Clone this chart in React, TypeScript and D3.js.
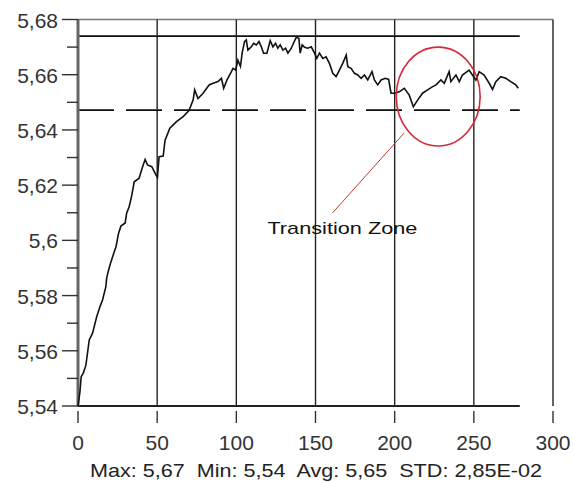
import React from 'react';
import * as d3 from 'd3';

const timeValues = [
  0, 1.2, 2, 3.4, 5, 7.1, 9.2, 11.8, 13.9, 15.5, 17.6, 18.1, 19.3, 20.8, 22.9, 24, 25.6, 27.1, 29.8,
  30.7, 32.3, 34, 35.5, 38.6, 40.8, 42.4, 43.9, 46.6, 49.2, 50.2, 51.2, 53.8, 55, 58, 62.2, 66.4,
  70.1, 72.7, 73.7, 75.8, 79, 82.8, 85.3, 88.4, 90.6, 92, 94.1, 95.8, 97.9, 99.6, 101, 102.6,
  103.8, 105.2, 106.3, 107.3, 109.5, 110.9, 112.6, 114.3, 115.8, 117.2, 119.3, 121.4, 123.1,
  124.8, 126.2, 127.7, 129.4, 131.1, 132.6, 134.7, 136.1, 137.8, 139.5, 140.3, 141.6, 143.1,
  145.1, 147.3, 149.4, 150.8, 152.5, 154.6, 156.7, 158.8, 160.9, 163, 165.1, 167.2, 169.4,
  170.4, 172.5, 174.6, 176.7, 178.8, 180.9, 183, 185.7, 187.2, 189.3, 191.4, 194.1, 196.2,
  197.7, 199.8, 202.9, 206.1, 209.2, 211.8, 214.5, 217.6, 220.8, 223.5, 226.1, 229.2, 231.3,
  234.4, 235.5, 238.7, 240.8, 242.8, 247, 249.1, 251.3, 253.4, 256.5, 259.7, 261.8, 263.9,
  267, 270.2, 273.3, 276.5, 278.1
];
const signalValues = [
  5.540, 5.545, 5.5506, 5.552, 5.5548, 5.5639, 5.5664, 5.5723, 5.576, 5.5784, 5.5832, 5.5863,
  5.5892, 5.5922, 5.5959, 5.5977, 5.6025, 5.6052, 5.6063, 5.6098, 5.6122, 5.6164, 5.6212,
  5.6225, 5.6267, 5.6293, 5.6273, 5.6267, 5.6237, 5.6228, 5.6303, 5.6305, 5.6363, 5.6406,
  5.643, 5.6448, 5.647, 5.6508, 5.6545, 5.6514, 5.6533, 5.6563, 5.6569, 5.6575, 5.6587,
  5.6551, 5.6581, 5.6599, 5.6623, 5.6617, 5.6653, 5.663, 5.6683, 5.672, 5.6726, 5.6689,
  5.6701, 5.6714, 5.6708, 5.672, 5.6701, 5.6678, 5.6678, 5.6723, 5.6701, 5.6714, 5.6696,
  5.6708, 5.6689, 5.6696, 5.6678, 5.6696, 5.6714, 5.6735, 5.6732, 5.6678, 5.6708, 5.6699,
  5.6696, 5.6701, 5.6678, 5.6659, 5.6678, 5.6659, 5.6665, 5.6641, 5.6605, 5.6593, 5.6617,
  5.6641, 5.6671, 5.6629, 5.6623, 5.6605, 5.6599, 5.6587, 5.6599, 5.6581, 5.6611, 5.6581,
  5.6563, 5.6581, 5.6587, 5.6583, 5.6533, 5.6533, 5.6538, 5.6551, 5.6526, 5.6484, 5.6508,
  5.6533, 5.6545, 5.6555, 5.6563, 5.6581, 5.6569, 5.6611, 5.6575, 5.6599, 5.6575, 5.6599,
  5.6617, 5.6599, 5.6581, 5.6611, 5.6599, 5.6569, 5.6547, 5.6575, 5.6593, 5.6587, 5.6575,
  5.6563, 5.6551
];

const xTicks = [0, 50, 100, 150, 200, 250, 300];
const yMajorTicks = [5.54, 5.56, 5.58, 5.6, 5.62, 5.64, 5.66, 5.68];
const yMinorTicks = [5.55, 5.57, 5.59, 5.61, 5.63, 5.65, 5.67];
const maxLevel = 5.674;
const avgLevel = 5.6472;
const refLineEnd = 279;
const statsText = 'Max: 5,67  Min: 5,54  Avg: 5,65  STD: 2,85E-02';
const annotationLabel = 'Transition Zone';
// ellipse centre / radii and arrow ends, in data units
const zoneCenter = { t: 227.5, v: 5.6521 };
const zoneRadius = { t: 26.5, v: 0.0179 };
const pointerFrom = { t: 206, v: 5.6389 };
const pointerTo = { t: 160.7, v: 5.6099 };
const labelAt = { t: 167, v: 5.6023 };

const fmt = (v: number) => String(+v.toFixed(2)).replace('.', ',');

export default function App() {
  const width = 574;
  const height = 482;
  const x = d3.scaleLinear().domain([0, 300]).range([78, 553]);
  const y = d3.scaleLinear().domain([5.54, 5.68]).range([406, 19.5]);

  const points = timeValues.map((t, i) => [t, signalValues[i]] as [number, number]);
  const line = d3.line<[number, number]>()
    .x(d => x(d[0]))
    .y(d => y(d[1]));

  const font = '"Liberation Sans", Arial, sans-serif';
  const top = y(5.68);
  const bottom = y(5.54);

  return (
    <div style={{ position: 'fixed', left: 0, top: 0 }}>
      <svg width={width} height={height} style={{ display: 'block', background: '#fff' }}>
        {/* top frame */}
        <line x1={x(0)} x2={x(300)} y1={top} y2={top} stroke="#777" strokeWidth={1.5} />

        {/* vertical grid lines with ticks below */}
        {xTicks.map(t => (
          <g key={t}>
            {t > 0 && (
              <line x1={x(t)} x2={x(t)} y1={top} y2={bottom} stroke="#222" strokeWidth={1.4} />
            )}
            <line x1={x(t)} x2={x(t)} y1={bottom + 5} y2={bottom + 17} stroke="#333" strokeWidth={1.4} />
            <text x={x(t)} y={450} textAnchor="middle" fontFamily={font} fontSize={21} fill="#333">
              {t}
            </text>
          </g>
        ))}

        {/* bottom axis */}
        <line x1={x(0)} x2={x(refLineEnd)} y1={bottom} y2={bottom} stroke="#222" strokeWidth={1.8} />

        {/* max + average lines */}
        <line x1={x(0)} x2={x(refLineEnd)} y1={y(maxLevel)} y2={y(maxLevel)} stroke="#111" strokeWidth={1.8} />
        <line x1={x(0)} x2={x(refLineEnd)} y1={y(avgLevel)} y2={y(avgLevel)} stroke="#111" strokeWidth={1.8}
          strokeDasharray="36 12" />

        {/* y axis */}
        <line x1={x(0)} x2={x(0)} y1={top} y2={bottom} stroke="#666" strokeWidth={3} />
        {yMinorTicks.map(v => (
          <line key={v} x1={x(0) - 11} x2={x(0)} y1={y(v)} y2={y(v)} stroke="#333" strokeWidth={1.4} />
        ))}
        {yMajorTicks.map(v => (
          <g key={v}>
            <line x1={x(0) - 16} x2={x(0)} y1={y(v)} y2={y(v)} stroke="#333" strokeWidth={1.4} />
            <text x={58} y={y(v) + 8} textAnchor="end" fontFamily={font} fontSize={21} fill="#333">
              {fmt(v)}
            </text>
          </g>
        ))}

        {/* signal */}
        <path d={line(points) || ''} fill="none" stroke="#111" strokeWidth={1.6} strokeLinejoin="miter" />

        {/* annotation */}
        <ellipse cx={x(zoneCenter.t)} cy={y(zoneCenter.v)}
          rx={x(zoneRadius.t) - x(0)} ry={y(5.54) - y(5.54 + zoneRadius.v)}
          fill="none" stroke="#d42a3a" strokeWidth={1.6} />
        <line x1={x(pointerFrom.t)} y1={y(pointerFrom.v)} x2={x(pointerTo.t)} y2={y(pointerTo.v)}
          stroke="#c23a3a" strokeWidth={1} />
        <text x={x(labelAt.t)} y={y(labelAt.v)} textAnchor="middle" fontFamily={font} fontSize={17}
          fill="#111" textLength={150} lengthAdjust="spacingAndGlyphs">
          {annotationLabel}
        </text>

        {/* summary stats */}
        <text x={316} y={477} textAnchor="middle" fontFamily={font} fontSize={19} fill="#222"
          textLength={452} lengthAdjust="spacingAndGlyphs" xmlSpace="preserve">
          {statsText}
        </text>
      </svg>
    </div>
  );
}
